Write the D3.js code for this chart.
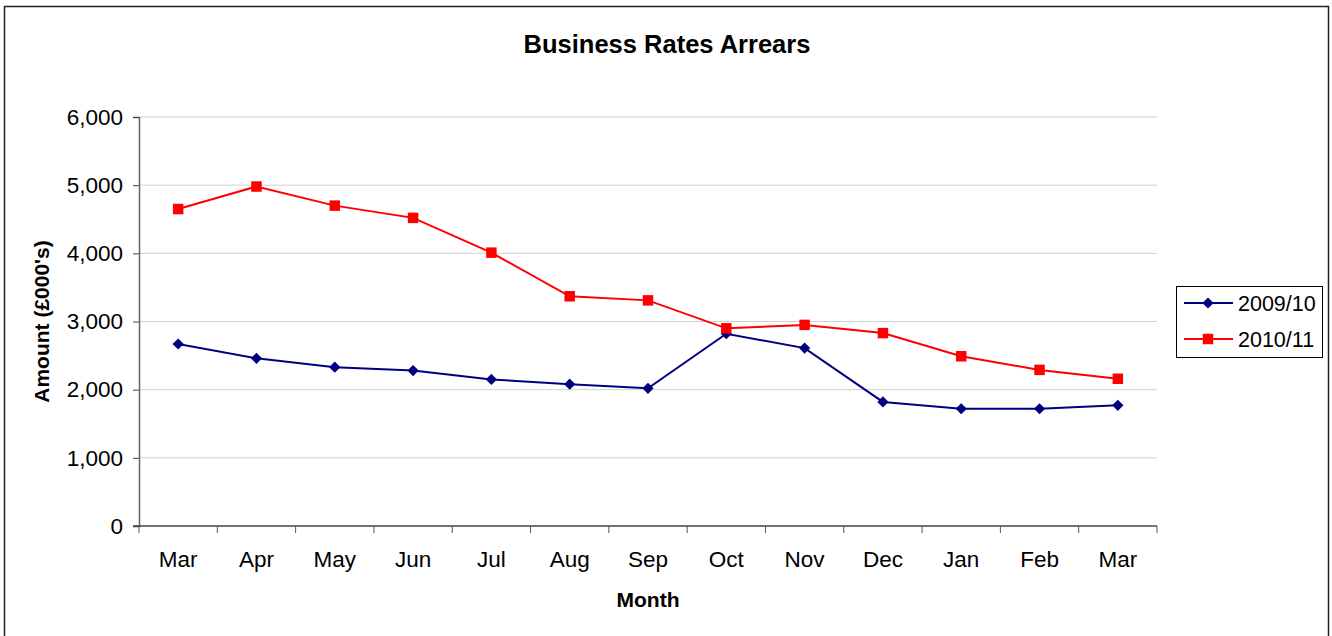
<!DOCTYPE html>
<html>
<head>
<meta charset="utf-8">
<script src="https://cdn.jsdelivr.net/npm/d3@7"></script>
<style>
  body { margin: 0; background: #fff; }
  svg { display: block; font-family: "Liberation Sans", Arial, sans-serif; }
</style>
</head>
<body>
<svg id="chart" width="1332" height="636"></svg>
<script>
// chart data
var months = ["Mar", "Apr", "May", "Jun", "Jul", "Aug", "Sep", "Oct", "Nov", "Dec", "Jan", "Feb", "Mar"];
var arrears0910 = [2670, 2460, 2330, 2280, 2150, 2080, 2020, 2820, 2610, 1820, 1720, 1720, 1770];
var arrears1011 = [4650, 4980, 4700, 4520, 4010, 3370, 3310, 2900, 2950, 2830, 2490, 2290, 2160];
var yTicks = [0, 1000, 2000, 3000, 4000, 5000, 6000];

var series = [
    { name: "2009/10", values: arrears0910, color: "#000080", marker: "diamond" },
    { name: "2010/11", values: arrears1011, color: "#ff0000", marker: "square" }
];

var svg = d3.select("#chart");

// outer frame
svg.append("rect")
    .attr("x", 4.5).attr("y", 6.5)
    .attr("width", 1324).attr("height", 640)
    .attr("fill", "none").attr("stroke", "#222").attr("stroke-width", 1.5);

var plot = { left: 139, right: 1157, top: 117, bottom: 526 };

// band scale over index so the repeated "Mar" stays two categories
var x = d3.scaleBand()
    .domain(d3.range(months.length))
    .range([plot.left, plot.right]);

var y = d3.scaleLinear()
    .domain([0, 6000])
    .range([plot.bottom, plot.top]);

// gridlines
svg.append("g")
    .selectAll("line")
    .data(yTicks.filter(function(t) { return t > 0; }))
    .enter().append("line")
    .attr("x1", plot.left).attr("x2", plot.right)
    .attr("y1", function(d) { return y(d); })
    .attr("y2", function(d) { return y(d); })
    .attr("stroke", "#d0d0d0").attr("stroke-width", 1);

// y axis
var yAxis = svg.append("g")
    .attr("transform", "translate(" + plot.left + ",0)")
    .call(d3.axisLeft(y).tickValues(yTicks).tickSize(6).tickPadding(10)
        .tickFormat(d3.format(",")));
yAxis.select(".domain").attr("stroke", "#666").attr("stroke-width", 1.5);
yAxis.selectAll(".tick line").attr("stroke", "#444");
yAxis.selectAll("text").attr("font-size", 22.5).attr("fill", "#000")
    .attr("font-family", "Liberation Sans, Arial, sans-serif");

// x axis - ticks on category boundaries
var xAxis = svg.append("g")
    .attr("transform", "translate(0," + plot.bottom + ")");
xAxis.append("line")
    .attr("x1", plot.left - 6).attr("x2", plot.right)
    .attr("stroke", "#444").attr("stroke-width", 1.5);
var bounds = d3.range(months.length + 1).map(function(i) {
    return plot.left + i * x.step();
});
xAxis.selectAll(".xtick")
    .data(bounds)
    .enter().append("line")
    .attr("class", "xtick")
    .attr("x1", function(d) { return d; }).attr("x2", function(d) { return d; })
    .attr("y1", 0).attr("y2", 7)
    .attr("stroke", "#555");
xAxis.selectAll(".xlabel")
    .data(months)
    .enter().append("text")
    .attr("class", "xlabel")
    .attr("x", function(d, i) { return x(i) + x.bandwidth() / 2; })
    .attr("y", 41)
    .attr("text-anchor", "middle")
    .attr("font-size", 22.5)
    .text(function(d) { return d; });

// titles
svg.append("text")
    .attr("x", 667).attr("y", 53)
    .attr("text-anchor", "middle")
    .attr("font-size", 25.5).attr("font-weight", "bold")
    .text("Business Rates Arrears");

svg.append("text")
    .attr("x", 648).attr("y", 607)
    .attr("text-anchor", "middle")
    .attr("font-size", 21).attr("font-weight", "bold")
    .text("Month");

svg.append("text")
    .attr("transform", "translate(49," + ((plot.top + plot.bottom) / 2) + ") rotate(-90)")
    .attr("text-anchor", "middle")
    .attr("font-size", 21).attr("font-weight", "bold")
    .text("Amount (£000's)");

// lines and markers
var line = d3.line()
    .x(function(d, i) { return x(i) + x.bandwidth() / 2; })
    .y(function(d) { return y(d); });

var diamond = d3.symbol().type(d3.symbolDiamond2).size(80);
var square = d3.symbol().type(d3.symbolSquare).size(110);

function markerPath(s) {
    return s.marker === "diamond" ? diamond() : square();
}

series.forEach(function(s) {
    var g = svg.append("g");
    g.append("path")
        .datum(s.values)
        .attr("d", line)
        .attr("fill", "none")
        .attr("stroke", s.color)
        .attr("stroke-width", 2);
    g.selectAll(".pt")
        .data(s.values)
        .enter().append("path")
        .attr("class", "pt")
        .attr("transform", function(d, i) {
            return "translate(" + (x(i) + x.bandwidth() / 2) + "," + y(d) + ")";
        })
        .attr("d", markerPath(s))
        .attr("fill", s.color);
});

// legend
var legend = svg.append("g").attr("transform", "translate(1176,286)");
legend.append("rect")
    .attr("x", 0.5).attr("y", 0.5)
    .attr("width", 146).attr("height", 71)
    .attr("fill", "#fff").attr("stroke", "#000").attr("stroke-width", 1);
var items = legend.selectAll(".item")
    .data(series)
    .enter().append("g")
    .attr("class", "item")
    .attr("transform", function(d, i) { return "translate(0," + (17 + i * 36) + ")"; });
items.append("line")
    .attr("x1", 8).attr("x2", 57)
    .attr("stroke", function(d) { return d.color; })
    .attr("stroke-width", 2);
items.append("path")
    .attr("transform", "translate(32,0)")
    .attr("d", function(d) { return markerPath(d); })
    .attr("fill", function(d) { return d.color; });
items.append("text")
    .attr("x", 62).attr("y", 8)
    .attr("font-size", 21.5)
    .text(function(d) { return d.name; });
</script>
</body>
</html>
